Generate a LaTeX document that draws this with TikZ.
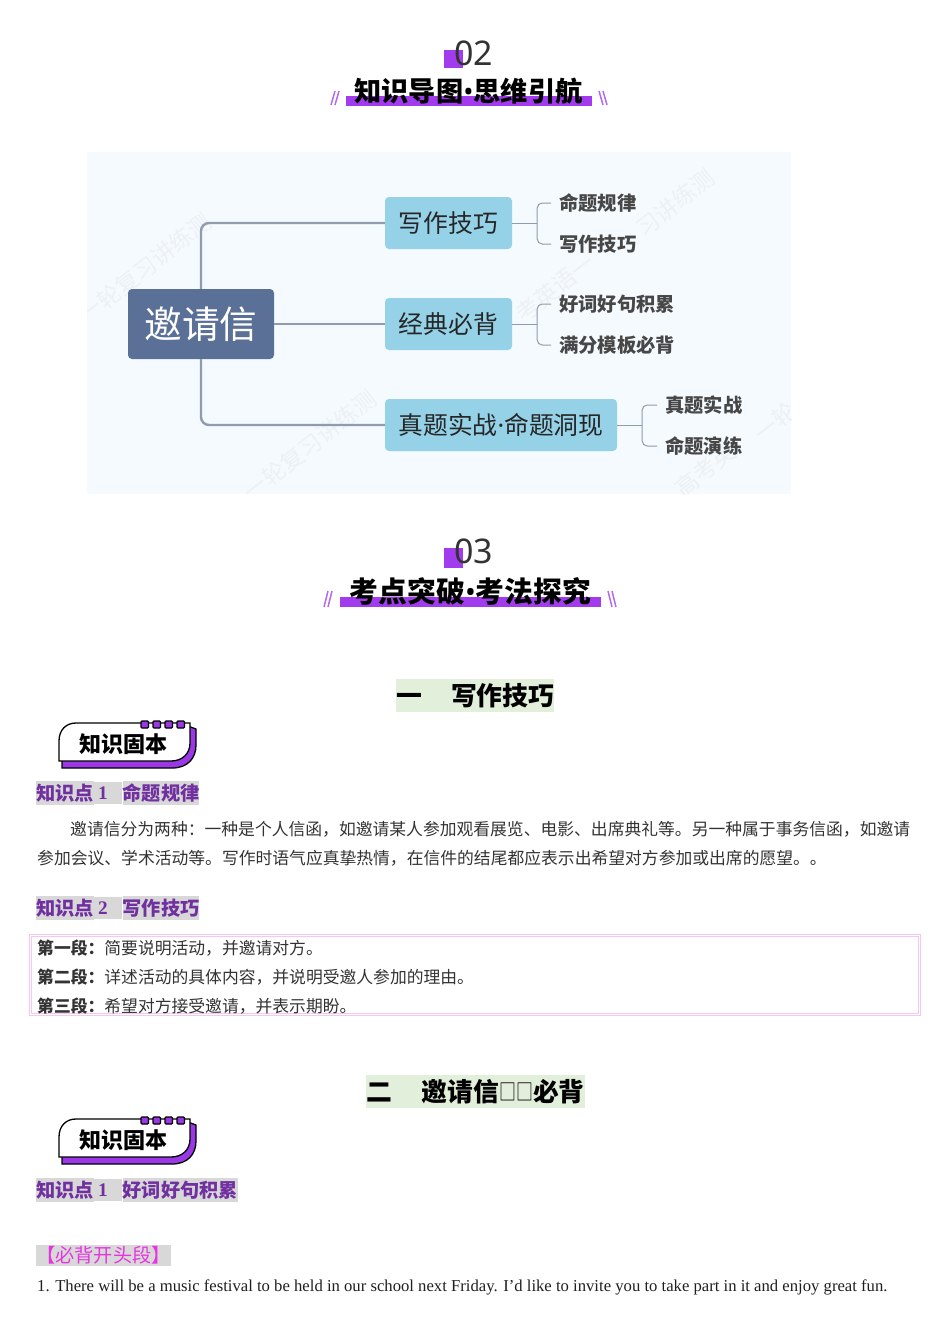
\documentclass[tikz,border=0pt]{standalone}
\usepackage{fontspec}
\usetikzlibrary{positioning}
\setmainfont{Liberation Serif}
\newfontfamily\cjk{Noto Sans CJK SC}
\newfontfamily\numfont{Noto Sans}
\newcommand{\fsz}[1]{\fontsize{#1}{#1}\selectfont}
\newcommand{\tdot}{{\numfont\bfseries •}}
\definecolor{barpurple}{HTML}{A23BEE}
\definecolor{slashpurple}{HTML}{B36AF0}
\definecolor{panelblue}{HTML}{F4FAFE}
\definecolor{rootblue}{HTML}{5A7096}
\definecolor{boxblue}{HTML}{95D2E8}
\definecolor{linkgrey}{HTML}{8F9BAE}
\definecolor{markgrey}{HTML}{EDF1F5}
\definecolor{headgreen}{HTML}{E2EFDA}
\definecolor{kpgrey}{HTML}{D8D8D8}
\definecolor{kppurple}{HTML}{7030A0}
\definecolor{pinkline}{HTML}{F3C8F3}
\definecolor{magentatext}{HTML}{E833E0}
\definecolor{badgepurple}{HTML}{9A38E6}
\tikzstyle{numtext}=[inner sep=0pt,font=\numfont\fsz{34},text=black!80]
\tikzstyle{titletext}=[inner sep=0pt,font=\cjk\bfseries\fsz{27.2}]
\tikzstyle{slashline}=[slashpurple,line width=1.5pt]
\tikzstyle{rootbox}=[fill=rootblue,rounded corners=4,minimum width=146pt,minimum height=70pt,text=white,font=\cjk\fsz{37.7}]
\tikzstyle{branch}=[fill=boxblue,rounded corners=4,minimum height=52pt,inner xsep=0pt,text=black!85,font=\cjk\fsz{24.8}]
\tikzstyle{leaf}=[anchor=west,inner xsep=8pt,inner ysep=0pt,text=black!72,font=\cjk\bfseries\fsz{19.3}]
\tikzstyle{link}=[linkgrey,line width=2.4pt,rounded corners=8]
\tikzstyle{twig}=[linkgrey,line width=1pt,rounded corners=5]
\tikzstyle{wmark}=[rotate=38,text=markgrey,font=\cjk\fsz{23},inner sep=0pt]
\tikzstyle{headbox}=[fill=headgreen,inner sep=0pt,anchor=west,minimum height=33pt,font=\cjk\bfseries\fsz{25.8}]
\tikzstyle{kpa}=[fill=kpgrey,inner sep=0pt,minimum height=24pt,text=kppurple,font=\cjk\bfseries\fsz{19.2}]
\tikzstyle{kpb}=[fill=kpgrey,inner xsep=4pt,inner ysep=0pt,text width=20pt,minimum height=22pt,text=kppurple,font=\bfseries\fsz{19.2}]
\tikzstyle{bodytext}=[anchor=west,inner sep=0pt,text=black!80,font=\cjk\fsz{16.8}]
\tikzstyle{badgetext}=[inner sep=0pt,font=\cjk\bfseries\fsz{22}]
\newcommand{\badge}[2]{
    \begin{scope}[yshift=-#1pt]
    \draw[fill=badgepurple,line width=1.3pt] (62,755) -- (62,768) -- (172,768) .. controls (188,768) and (196,758) .. (196,745) -- (196,729) -- (188,726) -- cycle;
    \draw[fill=white,line width=1.3pt] (59,761) -- (59,741) .. controls (59,730) and (66,723) .. (76,723) -- (190,723) -- (190,743) .. controls (190,754) and (182,761) .. (171,761) -- cycle;
    \foreach \x in {141,153,165,177}
        \draw[fill=badgepurple,line width=1.2pt,rounded corners=1] (\x,721) rectangle +(7.5,7);
    \node (#2) [badgetext] at (123,744) {知识固本};
    \end{scope}
}
\begin{document}
\begin{tikzpicture}[x=1pt,y=-1pt]
    \useasboundingbox (0,0) rectangle (950,1344);
    % section 02
    \fill[barpurple] (444,50) rectangle (463,68);
    \node (numA) [numtext] at (473.5,53) {02};
    \fill[barpurple] (346,96) rectangle (592,106);
    \node (titleA) [titletext] at (468.5,91) {知识导图\tdot 思维引航};
    \draw[slashline] (331,105) -- (335,91);
    \draw[slashline] (335,105) -- (339,91);
    \draw[slashline] (599,91) -- (603,105);
    \draw[slashline] (603,91) -- (607,105);
    % mind map
    \fill[panelblue] (87,152) rectangle (791,494);
    \begin{scope}
        \clip (87,152) rectangle (791,494);
        \node (markA) [wmark] at (145,268) {一轮复习讲练测};
        \node (markB) [wmark] at (555,288) {考英语一};
        \node (markC) [wmark] at (675,203) {习讲练测};
        \node (markD) [wmark] at (310,445) {一轮复习讲练测};
        \node (markE) [wmark] at (705,470) {高考英};
        \node (markF) [wmark] at (775,422) {一轮};
    \end{scope}
    \node (root) [rootbox] at (201,324) {邀请信};
    \node (write) [branch,minimum width=127pt] at (448.5,223) {写作技巧};
    \node (classic) [branch,minimum width=127pt] at (448.5,324) {经典必背};
    \node (real) [branch,minimum width=232pt] at (501,425) {真题实战{\numfont ·}命题洞现};
    \node (writeA) [leaf] at (551,203) {命题规律};
    \node (writeB) [leaf] at (551,244) {写作技巧};
    \node (classicA) [leaf] at (551,304) {好词好句积累};
    \node (classicB) [leaf] at (551,345) {满分模板必背};
    \node (realA) [leaf] at (657,405) {真题实战};
    \node (realB) [leaf] at (657,446) {命题演练};
    \draw[link] (root.north) |- (write.west);
    \draw[link] (root.east) -- (classic.west);
    \draw[link] (root.south) |- (real.west);
    \draw[twig] (write.east) -- ++(25,0);
    \draw[twig] (write.east)++(25,0) |- (writeA.west);
    \draw[twig] (write.east)++(25,0) |- (writeB.west);
    \draw[twig] (classic.east) -- ++(25,0);
    \draw[twig] (classic.east)++(25,0) |- (classicA.west);
    \draw[twig] (classic.east)++(25,0) |- (classicB.west);
    \draw[twig] (real.east) -- ++(25,0);
    \draw[twig] (real.east)++(25,0) |- (realA.west);
    \draw[twig] (real.east)++(25,0) |- (realB.west);
    % section 03
    \fill[barpurple] (444,548) rectangle (463,568);
    \node (numB) [numtext] at (473.5,551) {03};
    \fill[barpurple] (340,597) rectangle (601,607);
    \node (titleB) [titletext,font=\cjk\bfseries\fsz{28.8}] at (470.5,591) {考点突破\tdot 考法探究};
    \draw[slashline] (324,607) -- (328,591);
    \draw[slashline] (328,607) -- (332,591);
    \draw[slashline] (608,591) -- (612,607);
    \draw[slashline] (612,591) -- (616,607);
    % part one
    \node (headA) [headbox,minimum width=158pt] at (396,695.5) {一\hspace{29.2pt}写作技巧};
    \badge{0}{badgeA}
    \node (kpAa) [kpa,anchor=west] at (36,793) {知识点};
    \node (kpAb) [kpb,right=0pt of kpAa.east] {1};
    \node (kpAc) [kpa,right=0pt of kpAb] {命题规律};
    \node (lineA) [bodytext] at (70,829) {邀请信分为两种：一种是个人信函，如邀请某人参加观看展览、电影、出席典礼等。另一种属于事务信函，如邀请};
    \node (lineB) [bodytext] at (37,858) {参加会议、学术活动等。写作时语气应真挚热情，在信件的结尾都应表示出希望对方参加或出席的愿望。。};
    \node (kpBa) [kpa,anchor=west] at (36,908) {知识点};
    \node (kpBb) [kpb,right=0pt of kpBa.east] {2};
    \node (kpBc) [kpa,right=0pt of kpBb] {写作技巧};
    \node (frame) [draw=pinkline,line width=1.4pt,double,double distance=0.7pt,minimum width=889pt,minimum height=79pt] at (475,975) {};
    \node (paraA) [bodytext] at (37,948) {\textbf{第一段：}简要说明活动，并邀请对方。};
    \node (paraB) [bodytext] at (37,977) {\textbf{第二段：}详述活动的具体内容，并说明受邀人参加的理由。};
    \node (paraC) [bodytext] at (37,1006) {\textbf{第三段：}希望对方接受邀请，并表示期盼。};
    % part two
    \node (headB) [headbox,minimum width=219pt] at (366,1091.5) {二\hspace{29.2pt}邀请信\raisebox{0.5pt}{\scalebox{0.75}[1]{\mdseries\fsz{22.6}□□}}必背};
    \badge{396}{badgeB}
    \node (kpCa) [kpa,anchor=west] at (36,1190) {知识点};
    \node (kpCb) [kpb,right=0pt of kpCa.east] {1};
    \node (kpCc) [kpa,right=0pt of kpCb] {好词好句积累};
    \node (bibei) [anchor=west,fill=kpgrey,inner xsep=0pt,inner ysep=0pt,minimum height=21pt,text=magentatext,font=\cjk\fsz{19.2}] at (36,1255) {【必背开头段】};
    \node (enA) [anchor=base west,inner sep=0pt,text=black!88,font=\fsz{16.67}] at (37,1291.5) {1. There will be a music festival to be held in our school next Friday. I’d like to invite you to take part in it and enjoy great fun.};
\end{tikzpicture}
\end{document}
